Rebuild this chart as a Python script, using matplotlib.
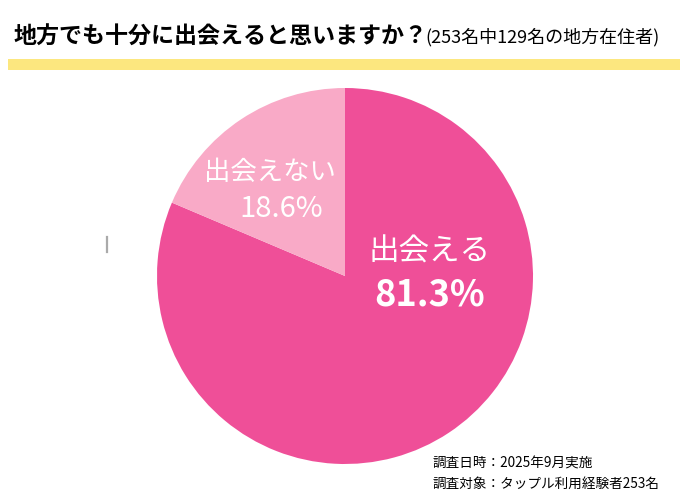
import matplotlib
matplotlib.use("Agg")
import matplotlib.pyplot as plt
from matplotlib.patches import Rectangle
from matplotlib.lines import Line2D

plt.rcParams['font.family'] = ['Noto Sans CJK JP', 'DejaVu Sans']

# ----------------- data -----------------
labels = ["出会える", "出会えない"]
values = [81.3, 18.6]
pct_text = ["81.3%", "18.6%"]
colors = ["#EF4F98", "#F9AAC7"]

title = "地方でも十分に出会えると思いますか？"
subtitle = "(253名中129名の地方在住者)"
notes = ["調査日時：2025年9月実施", "調査対象：タップル利用経験者253名"]

W, H = 690, 500
fig = plt.figure(figsize=(W / 100, H / 100), dpi=100)
fig.patch.set_facecolor("white")

# title + yellow band
fig.text(14 / W, 1 - 37 / H, title, fontsize=16.6, fontweight="bold", va="center", ha="left")
fig.text(425 / W, 1 - 37 / H, subtitle, fontsize=13, va="center", ha="left")
fig.patches.append(Rectangle((8 / W, 1 - 70 / H), 672 / W, 11 / H,
                             transform=fig.transFigure, color="#FCE77F", lw=0))

# stray gray tick seen on the left
fig.lines.append(Line2D([107 / W, 107 / W], [1 - 237 / H, 1 - 252 / H],
                        transform=fig.transFigure, color="#AAAAAA", lw=1.6))

# pie
cx, cy, r = 345, 276, 188
ax = fig.add_axes([(cx - r) / W, (H - cy - r) / H, 2 * r / W, 2 * r / H])
ax.pie(values, colors=colors, startangle=90, counterclock=False,
       wedgeprops=dict(linewidth=0))
ax.set_xlim(-1, 1)
ax.set_ylim(-1, 1)
ax.axis("off")

# slice labels
ax.text(0.452, 0.13, labels[0], color="white", fontsize=22, ha="center", va="center")
ax.text(0.45, -0.1, pct_text[0], color="white", fontsize=26, fontweight="bold",
        ha="center", va="center")
ax.text(-0.4, 0.55, labels[1], color="white", fontsize=19, ha="center", va="center")
ax.text(-0.34, 0.355, pct_text[1], color="white", fontsize=21, ha="center", va="center")

# footer
fig.text(432 / W, 1 - 464 / H, notes[0], fontsize=9.8, va="center", ha="left")
fig.text(432 / W, 1 - 484 / H, notes[1], fontsize=9.8, va="center", ha="left")

fig.savefig("out.png", dpi=100)
